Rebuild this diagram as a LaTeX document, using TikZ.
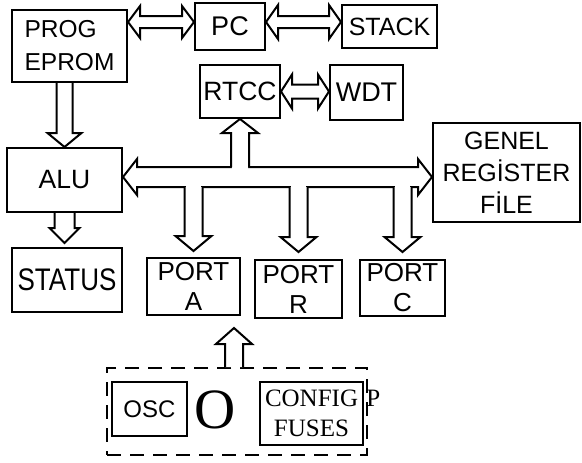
\documentclass[tikz,border=0pt]{standalone}
\usepackage{fontspec}
\setmainfont{Liberation Serif}
\setsansfont{Liberation Sans}
\usetikzlibrary{positioning, calc, backgrounds}

% hollow fat arrows: #1 half shaft, #2 half head, #3 head length, #4 start, #5 tip
\newcommand{\fatarrow}[5]{%
  \coordinate (fq) at ($#5!#3pt!#4$);
  \filldraw[fatline] ($#4!#1pt!90:#5$) -- ($(fq)!#1pt!90:#5$) -- ($(fq)!#2pt!90:#5$) -- #5
    -- ($(fq)!#2pt!-90:#5$) -- ($(fq)!#1pt!-90:#5$) -- ($#4!#1pt!-90:#5$);
}
\newcommand{\fatboth}[5]{%
  \coordinate (fp) at ($#4!#3pt!#5$);
  \coordinate (fq) at ($#5!#3pt!#4$);
  \filldraw[fatline] ($(fp)!#1pt!90:#5$) -- ($(fq)!#1pt!90:#5$) -- ($(fq)!#2pt!90:#5$) -- #5
    -- ($(fq)!#2pt!-90:#5$) -- ($(fq)!#1pt!-90:#5$) -- ($(fp)!#1pt!-90:#5$)
    -- ($(fp)!#2pt!-90:#5$) -- #4 -- ($(fp)!#2pt!90:#5$) -- cycle;
}
% opening in the bus wall where a branch leaves
\newcommand{\busgap}[1]{\fill[white] ($#1+(-7.8,-2.6)$) rectangle ($#1+(7.8,2.6)$);}

\begin{document}
\begin{tikzpicture}[
    x=1pt, y=-1pt,
    font=\sffamily\fontsize{26}{30}\selectfont,
    unit/.style={draw, line width=2pt, inner sep=0pt, align=center},
    fatline/.style={draw=black, fill=white, line width=2pt, line join=miter},
    grpbox/.style={draw, line width=2pt, dash pattern=on 14pt off 9pt}
  ]
    \useasboundingbox (0,0) rectangle (582,463);

    \node[unit, minimum width=115, minimum height=72, align=left, font=\sffamily\fontsize{24.5}{33}\selectfont] (prog) at (69.5,46) {PROG\\EPROM};
    \node[unit, minimum width=70, minimum height=47, font=\sffamily\fontsize{27}{30}\selectfont] (pc) at (230,26) {PC};
    \node[unit, minimum width=95, minimum height=43, font=\sffamily\fontsize{25}{30}\selectfont] (stack) at (389.5,26.5) {STACK};
    \node[unit, minimum width=80, minimum height=53, font=\sffamily\fontsize{26.5}{30}\selectfont] (rtcc) at (240,91.5) {RTCC};
    \node[unit, minimum width=73, minimum height=55, font=\sffamily\fontsize{27}{30}\selectfont] (wdt) at (366.5,92.5) {WDT};
    \node[unit, minimum width=147, minimum height=99, font=\sffamily\fontsize{25}{32}\selectfont] (genel) at (506.5,172.5) {GENEL\\REGİSTER\\FİLE};
    \node[unit, minimum width=115, minimum height=64, font=\sffamily\fontsize{26.5}{30}\selectfont] (alu) at (64.5,180) {ALU};
    \node[unit, minimum width=110, minimum height=64] (status) at (67,280) {\scalebox{1}[1.2]{STATUS}};
    \node[unit, minimum width=93, minimum height=57] (porta) at (193.5,286.5) {PORT\\A};
    \node[unit, minimum width=87, minimum height=58] (portb) at (298.5,289) {PORT\\R};
    \node[unit, minimum width=85, minimum height=56] (portc) at (402.5,288) {PORT\\C};

    % ==========================================
    \node[grpbox, minimum width=260, minimum height=87] (grp) at (237,411.5) {};
    \node[unit, minimum width=75, minimum height=54, font=\sffamily\fontsize{24}{30}\selectfont] (osc) at (149.5,409) {OSC};
    \node[font=\rmfamily\fontsize{57}{57}\selectfont, inner sep=0pt] (bigo) at (215,410) {O};
    \node[unit, minimum width=103, minimum height=63, text width=93pt, font=\rmfamily\fontsize{25}{30}\selectfont] (cfg) at (311.5,413.5) {CONFIG~P\\FUSES};

    % ==========================================
    \coordinate (pcl) at ([yshift=4pt]pc.west);
    \coordinate (pcr) at ([yshift=4pt]pc.east);
    \fatboth{6}{16}{12}{(prog.east |- pcl)}{(pcl)}
    \fatboth{6}{17}{12}{(pcr)}{(pcr -| stack.west)}
    \fatboth{7}{17}{11}{(rtcc.east)}{(rtcc.east -| wdt.west)}

    \fatarrow{8}{17}{14}{(prog.south -| alu.north)}{(alu.north)}
    \coordinate (st) at ([yshift=4pt]status.north -| alu.south);
    \fatarrow{10}{15}{15}{(alu.south)}{(st)}

    % bus
    \coordinate (bus) at (300,177);
    \coordinate (bt) at ([yshift=10pt]bus);
    \coordinate (bb) at ([yshift=-10pt]bus);
    \fatboth{10}{18}{14}{(alu.east |- bus)}{(genel.west |- bus)}

    \coordinate (sr) at (bt -| rtcc.south);
    \coordinate (sa) at (bb -| porta.north);
    \coordinate (sb) at (bb -| portb.north);
    \coordinate (sc) at (bb -| portc.north);
    \coordinate (ta) at ([yshift=6pt]porta.north);
    \coordinate (tb) at ([yshift=7pt]portb.north);
    \coordinate (tc) at ([yshift=7pt]portc.north);
    \busgap{(sr)} \busgap{(sa)} \busgap{(sb)} \busgap{(sc)}
    \fatarrow{9}{18}{14}{(sr)}{(rtcc.south)}
    \fatarrow{9}{18}{15}{(sa)}{(ta)}
    \fatarrow{9}{18}{15}{(sb)}{(tb)}
    \fatarrow{9}{18}{15}{(sc)}{(tc)}

    % clock/config block up to the ports
    \coordinate (up) at ([xshift=40.5pt, yshift=-12pt]porta.south);
    \fatarrow{9}{18}{16}{(grp.north -| up)}{(up)}

  \end{tikzpicture}
\end{document}
